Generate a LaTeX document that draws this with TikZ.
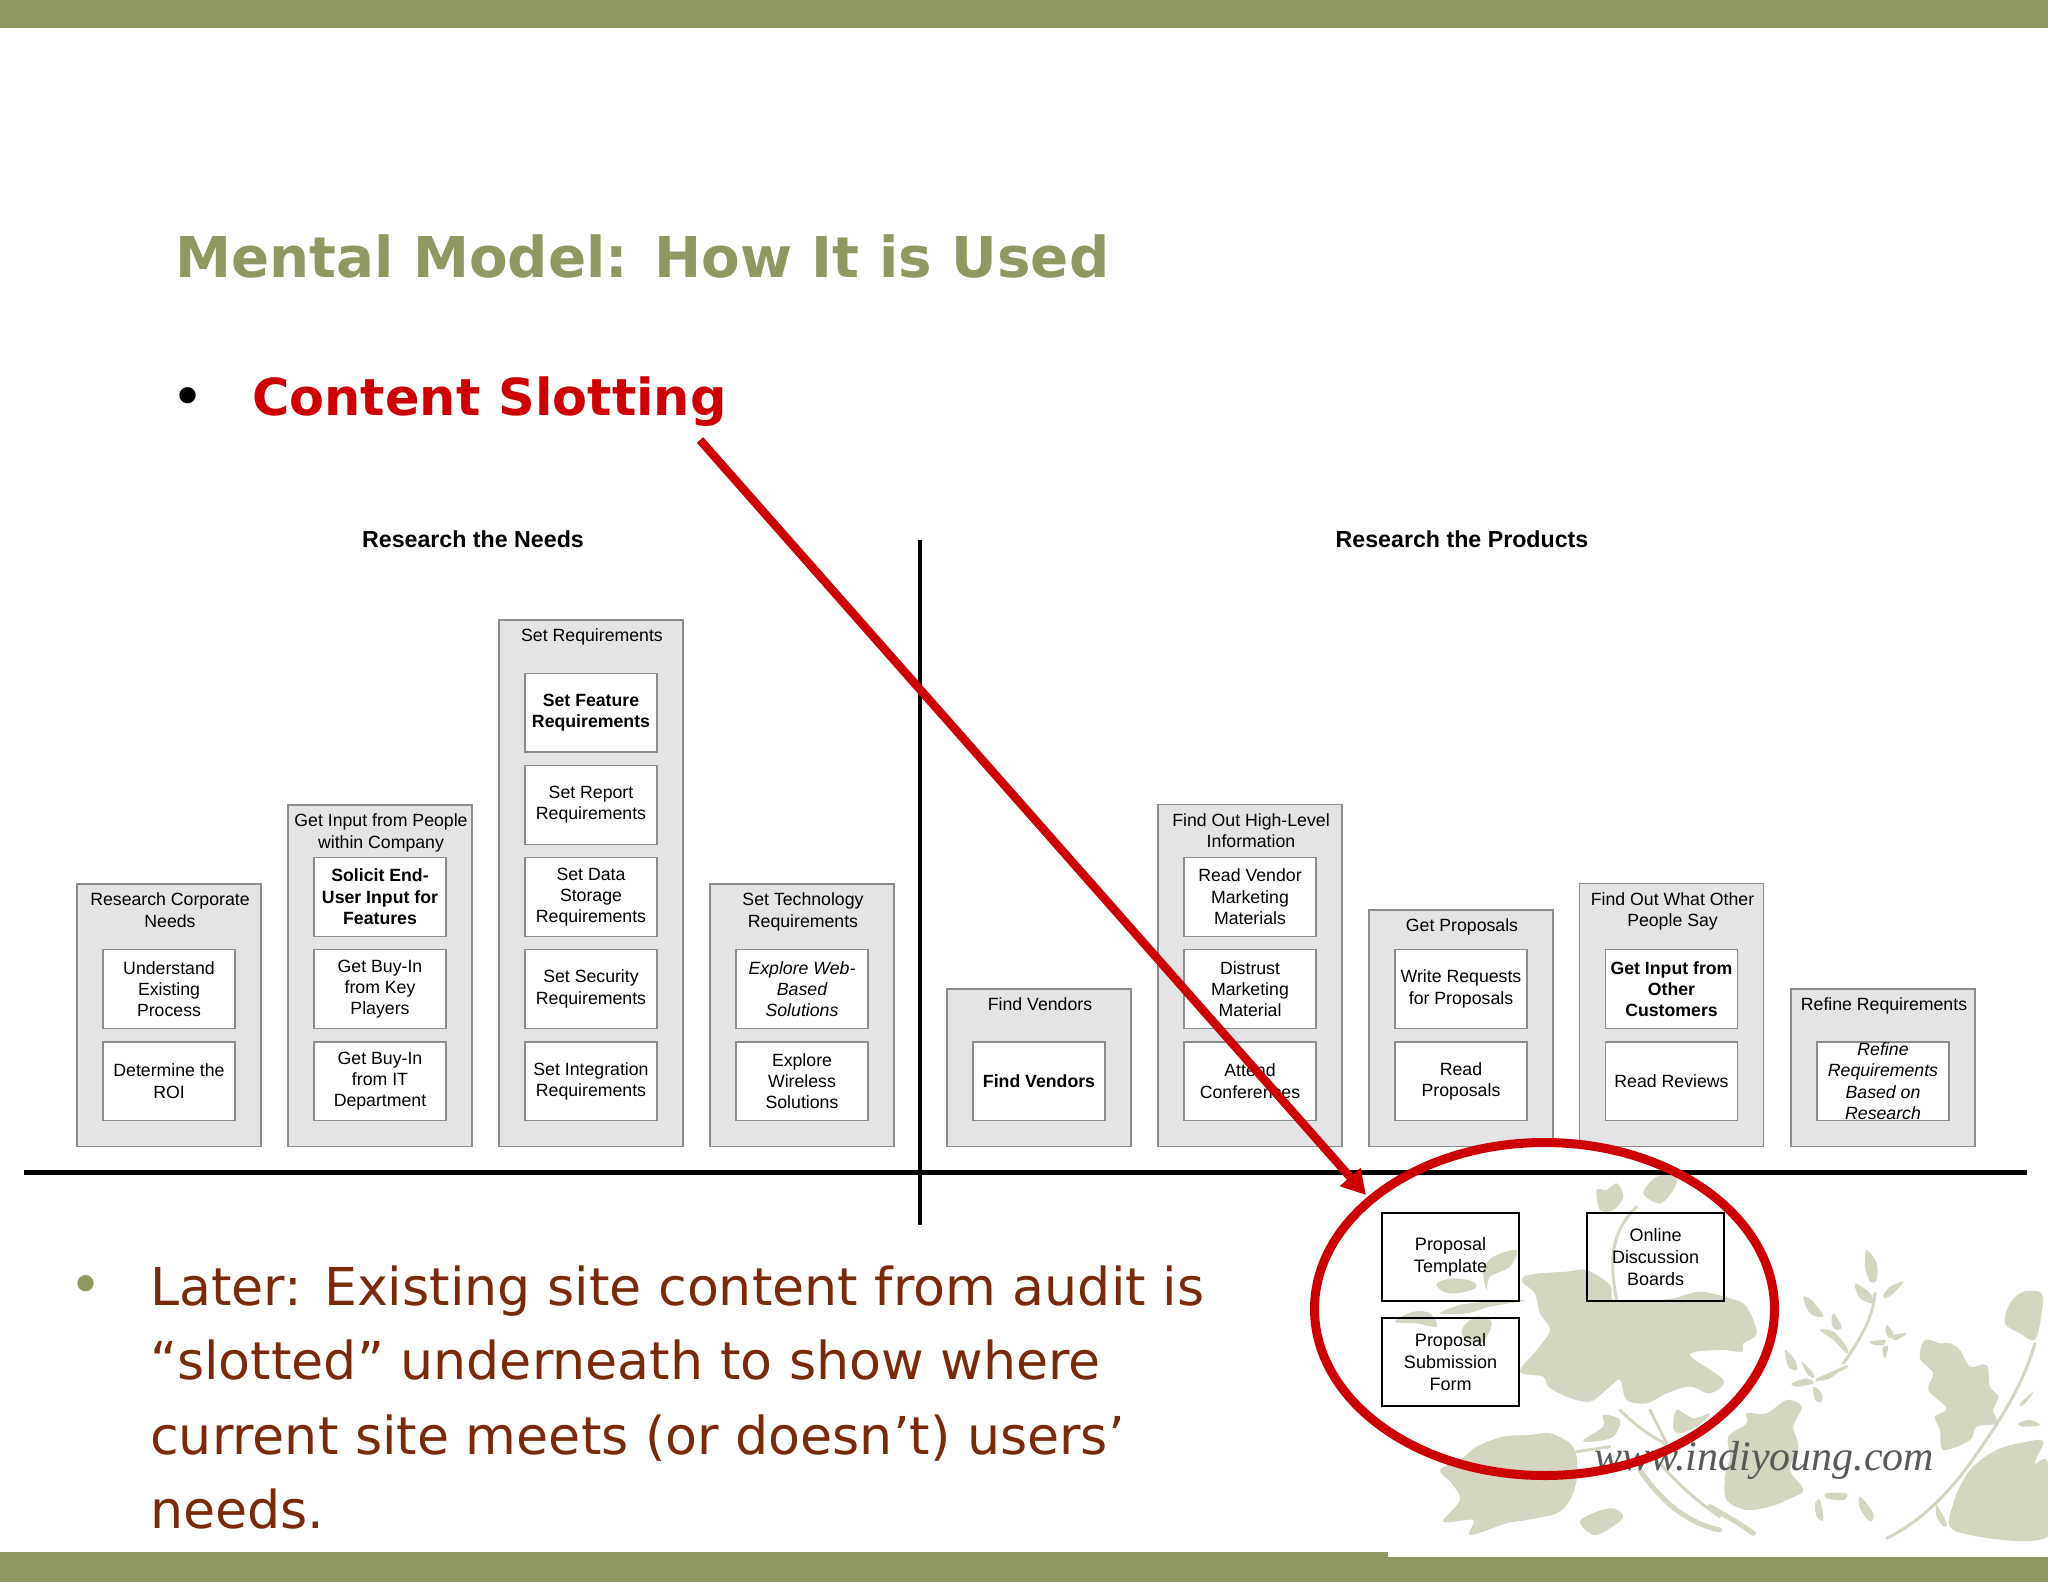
\documentclass[tikz,border=0pt]{standalone}
\usepackage{fontspec}
\setmainfont{Liberation Sans}
\newfontfamily\slidefont{DejaVu Sans}
\newfontfamily\urlfont{Liberation Serif}
\usetikzlibrary{positioning}
\usetikzlibrary{arrows.meta,shapes.geometric}
\definecolor{slideolive}{RGB}{142,153,98}
\definecolor{slidered}{RGB}{204,0,0}
\definecolor{slidebrown}{RGB}{122,42,8}
\definecolor{groupgrey}{RGB}{228,228,230}
\definecolor{groupedge}{RGB}{140,140,140}
\definecolor{leafgrey}{RGB}{212,214,194}
\tikzset{
  groupbox/.style={draw=groupedge,fill=groupgrey,line width=1.2pt,minimum width=184pt,inner sep=0pt,anchor=south},
  grouplabel/.style={align=center,inner sep=0pt,xshift=1pt,font=\fontsize{17.7}{21.3}\selectfont},
  taskbox/.style={draw=groupedge,fill=white,line width=1.2pt,minimum width=132pt,minimum height=78.5pt,inner sep=0pt,align=center,font=\fontsize{17.7}{21.3}\selectfont},
  slotbox/.style={draw=black,line width=2.4pt,minimum width=137pt,minimum height=88pt,inner sep=0pt,align=center,font=\fontsize{18}{21.6}\selectfont},
  headlabel/.style={inner sep=0pt,font=\fontsize{23.2}{26}\selectfont\bfseries},
  leaf/.style={fill=leafgrey,smooth cycle,tension=.55},
  twig/.style={draw=leafgrey,line width=3pt,line cap=round}
}
\begin{document}
\begin{tikzpicture}[x=1pt,y=-1pt]
    \useasboundingbox (0,0) rectangle (2048,1582);
    % bars
    \fill[slideolive] (0,0) rectangle (2048,28);
    \fill[slideolive] (0,1552) rectangle (2048,1582);
    \fill[white] (1388,1552) rectangle (2048,1557);

    % flower art, left half, in thirds of a pixel
    \begin{scope}[shift={(1380,1170)},x=0.3333pt,y=-0.3333pt]
      \fill[leaf] plot coordinates {(430,320) (480,310) (560,305) (620,300) (690,345) (700,390) (780,395) (880,385) (960,365) (1050,385) (1100,410) (1130,490) (1090,520) (1085,545) (1020,540) (930,555) (1030,630) (990,670) (930,650) (860,670) (800,700) (740,690) (720,630) (690,650) (630,695) (560,680) (505,650) (490,620) (420,605) (470,540) (510,480) (480,430) (465,370) (430,340)};
      \fill[leaf] plot coordinates {(180,900) (240,870) (290,830) (370,800) (450,795) (510,790) (570,820) (590,860) (590,930) (570,990) (530,1030) (440,1050) (380,1060) (270,1095) (280,1050) (190,1055) (240,990) (215,940)};
      \fill[leaf] plot coordinates {(600,1055) (650,1025) (700,1015) (730,1040) (690,1075) (640,1095)};
      \fill[leaf] plot coordinates {(610,810) (670,770) (670,735) (720,750) (700,800) (640,815)};
      \fill[leaf] plot coordinates {(880,775) (890,720) (940,745) (990,730) (950,770) (900,790)};
      \fill[leaf] plot coordinates {(650,60) (680,60) (710,40) (730,80) (700,120) (660,120)};
      \fill[leaf] plot coordinates {(790,70) (830,20) (890,20) (880,60) (840,100)};
      \fill[leaf] plot coordinates {(170,340) (220,325) (280,335) (285,355) (230,370) (190,365)};
      \fill[leaf] plot coordinates {(310,300) (340,260) (410,240) (390,290) (330,320) (320,360)};
      \fill[leaf] plot coordinates {(180,430) (240,405) (320,395) (440,390) (330,410) (260,430)};
      \fill[leaf] plot coordinates {(45,455) (100,425) (150,430) (170,470) (110,460)};
      \fill[leaf] plot coordinates {(250,470) (290,440) (335,455) (320,500) (300,520) (250,500)};
      \draw[twig] (590,845) -- (690,830);
      \draw[twig] (720,720) .. controls (770,770) and (800,790) .. (870,830);
      \draw[twig] (810,720) -- (860,820);
      \draw[twig,line width=5pt] (780,900) .. controls (840,990) and (920,1060) .. (1020,1080);
      \draw[twig] (840,880) .. controls (900,950) and (960,1000) .. (1020,1040);
      \draw[twig] (770,110) .. controls (710,170) and (680,240) .. (710,390);
    \end{scope}

    % flower art, right half
    \begin{scope}[shift={(1710,1170)},x=0.3333pt,y=-0.3333pt]
      \fill[leaf] plot coordinates {(55,800) (110,760) (110,730) (170,730) (230,690) (275,710) (250,770) (265,830) (240,900) (280,960) (230,990) (180,1010) (110,1020) (50,990) (45,920) (60,860)};
      \fill[leaf] plot coordinates {(330,990) (340,1050) (320,1040) (315,1000)};
      \fill[leaf] plot coordinates {(450,980) (490,1030) (480,1055) (450,1015)};
      \fill[leaf] plot coordinates {(350,970) (410,970) (400,990) (350,985)};
      \fill[leaf] plot coordinates {(470,240) (500,280) (500,330) (480,335) (465,290)};
      \fill[leaf] plot coordinates {(435,340) (480,370) (490,400) (450,385)};
      \fill[leaf] plot coordinates {(520,375) (540,350) (580,335) (550,370) (525,385)};
      \fill[leaf] plot coordinates {(280,380) (310,395) (340,440) (300,430)};
      \fill[leaf] plot coordinates {(370,430) (395,470) (380,480) (365,465)};
      \fill[leaf] plot coordinates {(330,480) (370,485) (410,530) (410,550) (370,510)};
      \fill[leaf] plot coordinates {(530,465) (550,490) (540,505) (528,490)};
      \fill[leaf] plot coordinates {(550,495) (590,490) (560,510) (545,505)};
      \fill[leaf] plot coordinates {(480,515) (525,510) (520,525) (495,525)};
      \fill[leaf] plot coordinates {(520,530) (535,530) (525,565) (518,550)};
      \fill[leaf] plot coordinates {(225,540) (255,570) (260,600) (235,590)};
      \fill[leaf] plot coordinates {(275,575) (310,610) (310,625) (290,610)};
      \fill[leaf] plot coordinates {(245,640) (290,625) (310,640) (260,650)};
      \fill[leaf] plot coordinates {(330,625) (385,605) (360,625) (335,632)};
      \fill[leaf] plot coordinates {(310,650) (335,670) (335,695) (315,690)};
      \fill[leaf] plot coordinates {(630,565) (645,510) (690,520) (720,520) (750,540) (780,590) (830,585) (840,650) (865,680) (850,720) (860,760) (800,770) (780,810) (700,840) (690,780) (675,740) (710,715) (655,660) (670,610)};
      \fill[leaf] plot coordinates {(885,460) (900,400) (940,365) (995,370) (995,430) (975,510) (930,490)};
      \fill[leaf] plot coordinates {(730,1000) (780,900) (860,840) (950,815) (1000,815) (975,880) (1014,880) (1014,1100) (740,1085)};
      \fill[leaf] plot coordinates {(925,760) (960,750) (990,765) (940,770)};
      \fill[leaf] plot coordinates {(930,700) (970,665) (950,695) (935,708)};
      \fill[leaf] plot coordinates {(680,1005) (710,1060) (700,1070) (680,1040)};
      \draw[twig,line width=5pt] (0,1010) .. controls (50,1040) and (90,1060) .. (130,1090);
      \draw[twig] (400,580) .. controls (450,510) and (490,440) .. (495,370);
      \draw[twig] (410,590) -- (320,630);
      \draw[twig] (975,520) .. controls (940,640) and (880,740) .. (780,880);
      \draw[twig] (780,880) .. controls (700,990) and (620,1060) .. (530,1105);
    \end{scope}

    % headings
    \node(title) [anchor=base west,inner sep=0pt,text=slideolive,font=\fontsize{56.3}{60}\slidefont\bfseries] at (175,277) {Mental Model: How It is Used};
    \node(slotdot) [anchor=base,inner sep=0pt,font=\fontsize{56}{58}\slidefont] at (188,416) {•};
    \node(slotting) [anchor=base west,inner sep=0pt,text=slidered,font=\fontsize{51}{54}\slidefont\bfseries] at (252,415) {Content Slotting};
    \node(needs) [headlabel] at (473,539) {Research the Needs};
    \node(products) [headlabel] at (1462,539) {Research the Products};

    % research the needs
    \node(g1) [groupbox,minimum height=262.5pt] at (169,1147) {};
    \node(g1l) [grouplabel,below=9.5pt of g1.north] {Research Corporate\\Needs};
    \node(t12) [taskbox,above=26pt of g1.south] {Determine the\\ROI};
    \node(t11) [taskbox,above=12.4pt of t12] {Understand\\Existing\\Process};

    \node(g2) [groupbox,minimum height=341.5pt] at (380,1147) {};
    \node(g2l) [grouplabel,below=9.5pt of g2.north] {Get Input from People\\within Company};
    \node(t23) [taskbox,above=26pt of g2.south] {Get Buy-In\\from IT\\Department};
    \node(t22) [taskbox,above=12.4pt of t23] {Get Buy-In\\from Key\\Players};
    \node(t21) [taskbox,above=12.4pt of t22,font=\fontsize{17.7}{21.3}\selectfont\bfseries] {Solicit End-\\User Input for\\Features};

    \node(g3) [groupbox,minimum height=526.5pt] at (591,1147) {};
    \node(g3l) [grouplabel,below=9.5pt of g3.north] {Set Requirements};
    \node(t35) [taskbox,above=26pt of g3.south] {Set Integration\\Requirements};
    \node(t34) [taskbox,above=12.4pt of t35] {Set Security\\Requirements};
    \node(t33) [taskbox,above=12.4pt of t34] {Set Data\\Storage\\Requirements};
    \node(t32) [taskbox,above=12.4pt of t33] {Set Report\\Requirements};
    \node(t31) [taskbox,above=12.4pt of t32,font=\fontsize{17.7}{21.3}\selectfont\bfseries] {Set Feature\\Requirements};

    \node(g4) [groupbox,minimum height=262.5pt] at (802,1147) {};
    \node(g4l) [grouplabel,below=9.5pt of g4.north] {Set Technology\\Requirements};
    \node(t42) [taskbox,above=26pt of g4.south] {Explore\\Wireless\\Solutions};
    \node(t41) [taskbox,above=12.4pt of t42,font=\fontsize{17.7}{21.3}\selectfont\itshape] {Explore Web-\\Based\\Solutions};

    % research the products
    \node(g5) [groupbox,minimum height=157.5pt] at (1039,1147) {};
    \node(g5l) [grouplabel,below=9.5pt of g5.north] {Find Vendors};
    \node(t51) [taskbox,above=26pt of g5.south,font=\fontsize{17.7}{21.3}\selectfont\bfseries] {Find Vendors};

    \node(g6) [groupbox,minimum height=342pt] at (1250,1147) {};
    \node(g6l) [grouplabel,below=9.5pt of g6.north] {Find Out High-Level\\Information};
    \node(t63) [taskbox,above=26pt of g6.south] {Attend\\Conferences};
    \node(t62) [taskbox,above=12.4pt of t63] {Distrust\\Marketing\\Material};
    \node(t61) [taskbox,above=12.4pt of t62] {Read Vendor\\Marketing\\Materials};

    \node(g7) [groupbox,minimum height=236.5pt] at (1461,1147) {};
    \node(g7l) [grouplabel,below=9.5pt of g7.north] {Get Proposals};
    \node(t72) [taskbox,above=26pt of g7.south] {Read\\Proposals};
    \node(t71) [taskbox,above=12.4pt of t72] {Write Requests\\for Proposals};

    \node(g8) [groupbox,minimum height=263pt] at (1671.5,1147) {};
    \node(g8l) [grouplabel,below=9.5pt of g8.north] {Find Out What Other\\People Say};
    \node(t82) [taskbox,above=26pt of g8.south] {Read Reviews};
    \node(t81) [taskbox,above=12.4pt of t82,font=\fontsize{17.7}{21.3}\selectfont\bfseries] {Get Input from\\Other\\Customers};

    \node(g9) [groupbox,minimum height=157.5pt] at (1883,1147) {};
    \node(g9l) [grouplabel,below=9.5pt of g9.north] {Refine Requirements};
    \node(t91) [taskbox,above=26pt of g9.south] {};
    \node(t91l) [grouplabel,xshift=-1pt,font=\fontsize{17.7}{21.3}\selectfont\itshape] at (t91) {Refine\\Requirements\\Based on\\Research};

    % axes
    \coordinate (axisl) at (24,1172.5);
    \coordinate (axisr) at (2027,1172.5);
    \coordinate (axist) at (920,540);
    \coordinate (axisb) at (920,1225);
    \draw[line width=4.4pt] (axisl) -- (axisr);
    \draw[line width=3.4pt] (axist) -- (axisb);

    % slotted content
    \node(s1) [slotbox] at (1450.5,1257) {Proposal\\Template};
    \node(s2) [slotbox] at (1655.5,1257) {Online\\Discussion\\Boards};
    \node(s3) [slotbox] at (1450.5,1362) {Proposal\\Submission\\Form};

    % body text
    \node(bodydot) [anchor=base,inner sep=0pt,text=slideolive,font=\fontsize{56}{58}\slidefont] at (86,1304) {•};
    \node(body) [anchor=north west,align=left,inner sep=0pt,text=slidebrown,font=\fontsize{52.2}{74.5}\slidefont] at (150,1265.5) {Later: Existing site content from audit is\\“slotted” underneath to show where\\current site meets (or doesn’t) users’\\needs.};
    \node(url) [anchor=base west,inner sep=0pt,text=black!65,font=\fontsize{42}{44}\urlfont\itshape] at (1594,1470) {www.indiyoung.com};

    % red marks
    \coordinate (arrowstart) at (700,440);
    \coordinate (arrowtip) at (1366,1195);
    \draw[slidered,line width=8.5pt,-{Triangle[length=24pt,width=26pt]}] (arrowstart) -- (arrowtip);
    \node(slotring) [ellipse,draw=slidered,line width=9pt,minimum width=460pt,minimum height=333pt,inner sep=0pt] at (1544.5,1309) {};
  \end{tikzpicture}
\end{document}
